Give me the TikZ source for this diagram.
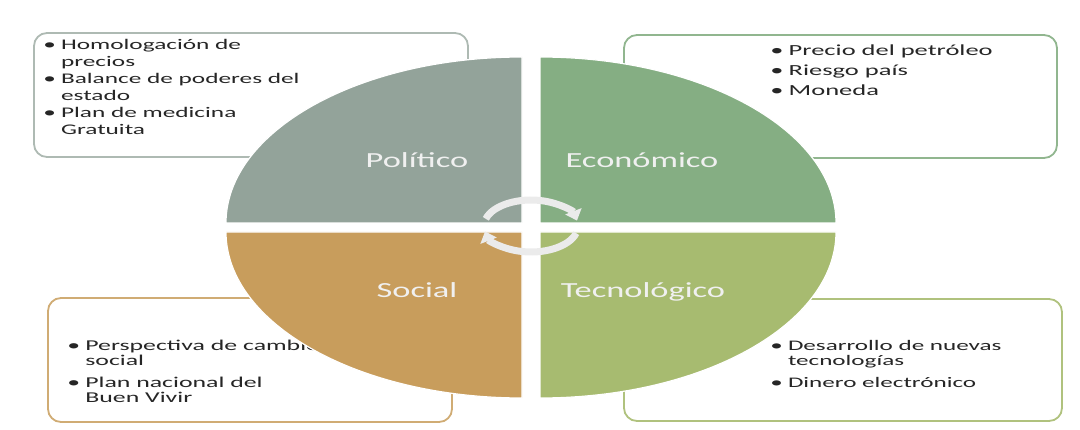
\documentclass[tikz,border=0pt]{standalone}
\usepackage{fontspec}
\setmainfont{Carlito}
\usetikzlibrary{arrows.meta}

\definecolor{polgray}{HTML}{93A39A}
\definecolor{ecogreen}{HTML}{85AE83}
\definecolor{soctan}{HTML}{C89D5C}
\definecolor{tecgreen}{HTML}{A7BB70}
\definecolor{ink}{HTML}{262626}

\tikzset{
  caja/.style={rounded corners=13pt, line width=1.8pt, fill=white},
  lista/.style={anchor=base west, inner sep=0pt, text=ink, xscale=1.72},
  eje/.style={anchor=base, inner sep=0pt, text=white!94!black, xscale=1.6,
    font=\fontsize{21.5}{25}\selectfont},
  ciclo/.style={line width=7pt, draw=black!8, -{Triangle[width=17pt,length=10pt]}}
}
\newcommand\bul{\textbullet}

\begin{document}
\begin{tikzpicture}[x=1pt,y=1pt]
        \useasboundingbox (0,0) rectangle (1080,429);
        % cajas con las listas, quedan debajo del circulo
        \draw[caja,draw=polgray!75] (34,396) rectangle (468,272);
        \draw[caja,draw=ecogreen!90] (624,394) rectangle (1057,271);
        \draw[caja,draw=soctan!85] (48,131) rectangle (452,7);
        \draw[caja,draw=tecgreen!90] (624,130) rectangle (1062,8);
        \node[lista,font=\fontsize{14.7}{17}\selectfont] (lpol) at (43,379) {%
          \begin{tabular}[t]{@{}l@{\hspace{3pt}}l@{}}
            \bul & Homologación de\\ & precios\\
            \bul & Balance de poderes del\\ & estado\\
            \bul & Plan de medicina\\ & Gratuita
          \end{tabular}};
        \node[lista,font=\fontsize{15.4}{20}\selectfont] (leco) at (770,373) {%
          \begin{tabular}[t]{@{}l@{\hspace{3pt}}l@{}}
            \bul & Precio del petróleo\\
            \bul & Riesgo país\\
            \bul & Moneda
          \end{tabular}};
        \node[lista,font=\fontsize{15}{16}\selectfont] (lsoc) at (67,79) {%
          \begin{tabular}[t]{@{}l@{\hspace{3pt}}l@{}}
            \bul & Perspectiva de cambio\\ & social\\[5pt]
            \bul & Plan nacional del\\ & Buen Vivir
          \end{tabular}};
        \node[lista,font=\fontsize{14.6}{15.5}\selectfont] (ltec) at (770,79) {%
          \begin{tabular}[t]{@{}l@{\hspace{3pt}}l@{}}
            \bul & Desarrollo de nuevas\\ & tecnologías\\[7pt]
            \bul & Dinero electrónico
          \end{tabular}};
        % los cuatro cuartos del circulo
        \foreach \cx/\cy/\a/\col in {522/206/90/polgray, 540/206/0/ecogreen,
                                     522/197/180/soctan, 540/197/270/tecgreen}
          \filldraw[fill=\col,draw=white,line width=1.2pt] (\cx,\cy) -- ++(\a:296pt and 166pt)
            arc[start angle=\a, end angle=\a+90, x radius=296pt, y radius=166pt] -- cycle;
        \node[eje] (pol) at (417,261) {Político};
        \node[eje] (eco) at (642,261) {Económico};
        \node[eje] (soc) at (417,131) {Social};
        \node[eje] (tec) at (643,131) {Tecnológico};
        % flechas del ciclo al centro
        \coordinate (c) at (531,203);
        \draw[ciclo] ([shift={(164:47pt and 26pt)}]c) arc[start angle=164, end angle=12, x radius=47pt, y radius=26pt];
        \draw[ciclo] ([shift={(-16:47pt and 26pt)}]c) arc[start angle=-16, end angle=-168, x radius=47pt, y radius=26pt];
      \end{tikzpicture}
\end{document}
